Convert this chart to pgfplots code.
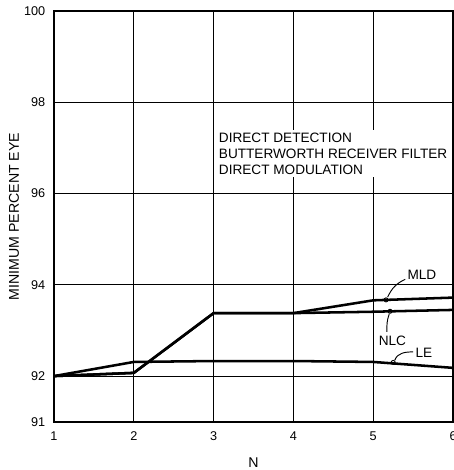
\documentclass[border=0pt]{standalone}
\usepackage{pgfplots}
\pgfplotsset{compat=1.18}
\usepackage{fontspec}
\setmainfont{Liberation Sans}

\begin{document}
\begin{tikzpicture}
\begin{axis}[
  scale only axis,
  width=299.25pt, height=308pt,
  xmin=1, xmax=6, ymin=91, ymax=100,
  xtick={1,2,3,4,5,6},
  ytick={91,92,94,96,98,100},
  grid=major,
  grid style={black, line width=0.65pt},
  axis line style={black, line width=1.2pt},
  major tick length=0pt,
  tick label style={font=\fontsize{9.5}{11}\selectfont},
  /pgf/number format/assume math mode=true,
  yticklabel style={xshift=-3pt},
  xticklabel style={yshift=-4pt},
  xlabel={N},
  ylabel={MINIMUM PERCENT EYE},
  label style={font=\fontsize{10.6}{12}\selectfont},
  xlabel style={yshift=-6pt},
  ylabel style={yshift=-3pt},
  clip=false,
]
% receiver structures
\addplot[black, line width=1.9pt] coordinates {
  (1,92) (2,92.07) (3,93.38) (4,93.38) (5,93.66) (6,93.72)}; % MLD
\addplot[black, line width=1.9pt] coordinates {
  (1,92) (2,92.07) (3,93.38) (4,93.38) (5,93.41) (6,93.45)}; % NLC
\addplot[black, line width=1.9pt] coordinates {
  (1,92) (2,92.31) (3,92.33) (4,92.33) (5,92.31) (6,92.18)}; % LE

% callout anchors on the curves
\addplot[only marks, mark=o, mark size=1.5pt, black, line width=0.7pt]
  coordinates {(5.16,93.67) (5.21,93.42) (5.25,92.30)};

% callout leaders and labels
\draw[line width=0.7pt] (axis cs:5.18,93.73) to[out=65,in=205] (axis cs:5.40,94.12);
\node[font=\fontsize{10.2}{12}\selectfont, anchor=west, inner sep=1pt] at (axis cs:5.41,94.22) {MLD};
\draw[line width=0.7pt] (axis cs:5.20,93.36) to[out=-110,in=90] (axis cs:5.17,92.97);
\node[font=\fontsize{10.2}{12}\selectfont, inner sep=1pt] at (axis cs:5.24,92.78) {NLC};
\draw[line width=0.7pt] (axis cs:5.27,92.35) to[out=70,in=180] (axis cs:5.50,92.53);
\node[font=\fontsize{10.2}{12}\selectfont, anchor=west, inner sep=1pt] at (axis cs:5.51,92.52) {LE};

% system description
\node[fill=white, anchor=north west, align=left, inner sep=2pt,
      font=\fontsize{10.2}{12}\selectfont] at (axis cs:3.03,97.40)
  {DIRECT DETECTION\\BUTTERWORTH RECEIVER FILTER\\DIRECT MODULATION};

\coordinate (bl) at (rel axis cs:0,0);
\coordinate (tr) at (rel axis cs:1,1);
\end{axis}
\pgfresetboundingbox
\path[use as bounding box] ([xshift=-40.5pt,yshift=-36.2pt]bl) rectangle ([yshift=8.25pt]tr);
\end{tikzpicture}
\end{document}
